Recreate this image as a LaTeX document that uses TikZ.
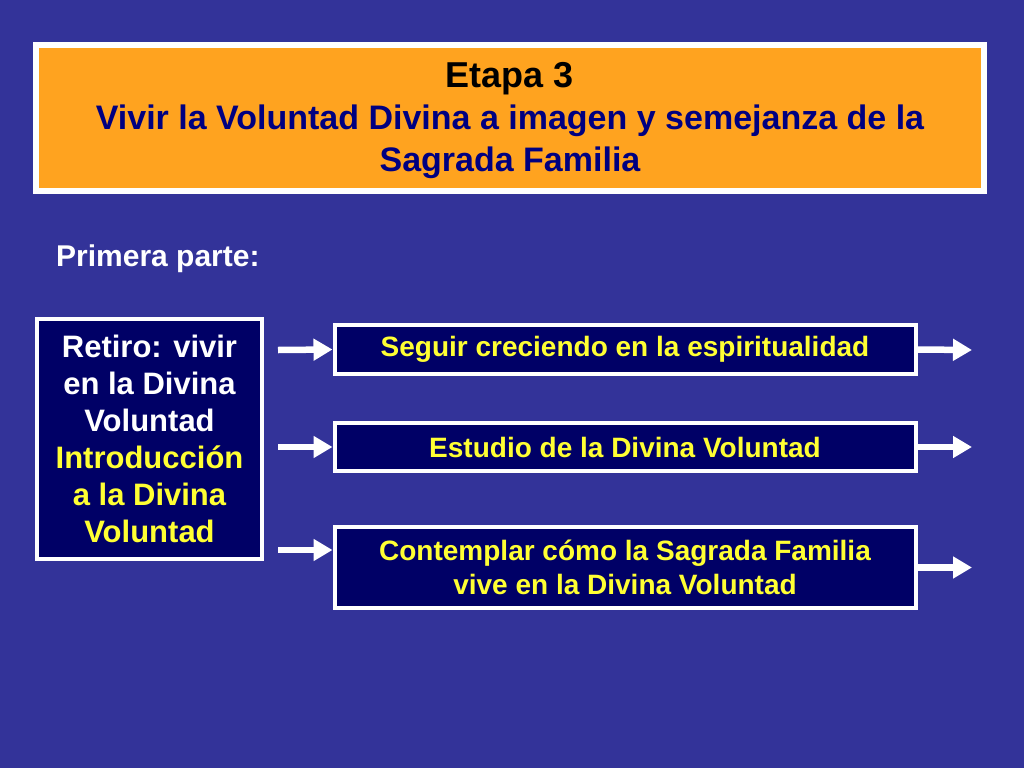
\documentclass[tikz,border=0pt]{standalone}
\usepackage{fontspec}
\setmainfont{Liberation Sans}
\usetikzlibrary{arrows.meta,calc}
\definecolor{bgblue}{HTML}{333399}
\definecolor{orangefill}{HTML}{FFA31F}
\definecolor{navyfill}{HTML}{000066}
\definecolor{titleblue}{HTML}{000080}
\definecolor{yel}{HTML}{FFFF33}
\tikzset{
  navybox/.style={draw=white, line width=4pt, fill=navyfill, inner sep=0pt, align=center, text=yel, font=\bfseries\fontsize{28}{34}\selectfont},
  whitearrow/.style={draw=white, line width=6.5pt, -{Triangle[width=21pt,length=19pt]}, shorten >=0pt}
}
\begin{document}
\begin{tikzpicture}[x=1pt,y=-1pt]
\fill[bgblue] (0,0) rectangle (1024,768);
\useasboundingbox (0,0) rectangle (1024,768);
% title box
\node[draw=white, line width=6pt, fill=orangefill, minimum width=948pt, minimum height=145pt, inner sep=0pt, align=center, font=\bfseries\fontsize{34}{42}\selectfont, text=titleblue] (title) at (510,118) {};
\node[align=center, inner sep=0pt, font=\bfseries\fontsize{34}{42}\selectfont, text=titleblue] (titletext) at ($(title.center)+(0,3)$)
  {{\color{black}\fontsize{36}{42}\selectfont Etapa 3}\\ Vivir la Voluntad Divina a imagen y semejanza de la\\ Sagrada Familia};
% label
\node[anchor=west, text=white, font=\bfseries\fontsize{30}{36}\selectfont, inner sep=0pt] (primera) at (56,259) {Primera parte:};
% left box
\node[draw=white, line width=4pt, fill=navyfill, minimum width=225pt, minimum height=240pt, inner sep=0pt, align=center, text=white, font=\bfseries\fontsize{31}{37}\selectfont] (retiro) at (149.5,439)
  {Retiro: vivir\\ en la Divina\\ Voluntad\\ \textcolor{yel}{Introducción}\\ \textcolor{yel}{a la Divina}\\ \textcolor{yel}{Voluntad}};
% right boxes
\node[navybox, minimum width=581pt, minimum height=49pt] (s1) at (625,349.5) {Seguir creciendo en la espiritualidad};
\node[navybox, minimum width=581pt, minimum height=48pt] (s2) at (625,447) {Estudio de la Divina Voluntad};
\node[navybox, minimum width=581pt, minimum height=81pt] (s3) at (625,567.5) {Contemplar cómo la Sagrada Familia\\ vive en la Divina Voluntad};
% arrow end points
\coordinate (a1) at (278,350);
\coordinate (a2) at (278,447);
\coordinate (a3) at (278,550);
\coordinate (b1) at (972,350);
\coordinate (b2) at (972,447);
\coordinate (b3) at (972,567.5);
\draw[whitearrow] (a1) -- (s1.west);
\draw[whitearrow] (a2) -- (s2.west);
\draw[whitearrow] (a3) -- (a3 -| s3.west);
\draw[whitearrow] (s1.east) -- (b1);
\draw[whitearrow] (s2.east) -- (b2);
\draw[whitearrow] (s3.east) -- (b3);
\end{tikzpicture}
\end{document}
